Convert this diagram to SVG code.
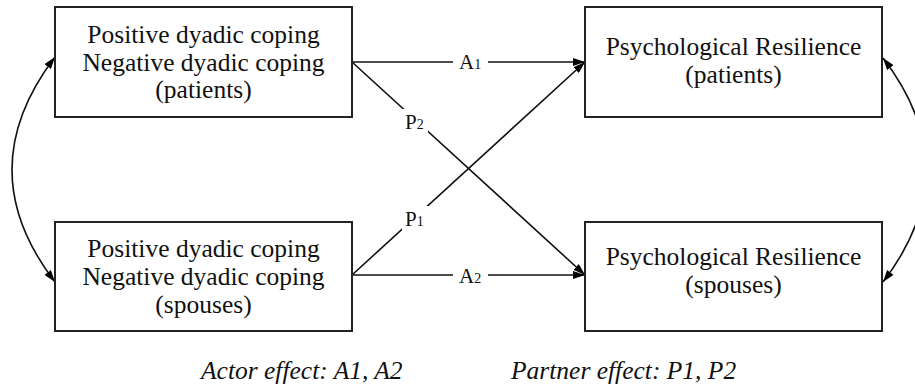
<svg xmlns="http://www.w3.org/2000/svg" width="915" height="388" viewBox="0 0 915 388">
<defs>
<marker id="ah" viewBox="0 0 12 8" refX="12" refY="4" markerWidth="12" markerHeight="8" markerUnits="userSpaceOnUse" orient="auto-start-reverse">
<path d="M0,0 L12,4 L0,8 Z" fill="#000"/>
</marker>
<style>
.box{fill:#fff;stroke:#222;stroke-width:2}
.t{font-family:"Liberation Serif","Times New Roman",serif;font-size:25.5px;fill:#111;text-anchor:middle}
.lbl{font-family:"Liberation Serif","Times New Roman",serif;font-size:21px;fill:#111}
.sub{font-size:14px}
.cap{font-family:"Liberation Serif","Times New Roman",serif;font-size:25.5px;font-style:italic;fill:#111}
.ln{fill:none;stroke:#111;stroke-width:1.6}
.bg{fill:#fff}
</style>
</defs>
<rect width="915" height="388" fill="#fff"/>
<g id="connectors">
<path class="ln" d="M352,62 L585,62" marker-end="url(#ah)"/>
<path class="ln" d="M352,275 L585,275" marker-end="url(#ah)"/>
<path class="ln" d="M352,62 L585,275" marker-end="url(#ah)"/>
<path class="ln" d="M352,275 L585,62" marker-end="url(#ah)"/>
<path class="ln" d="M55,282 Q-31,170 55,57" marker-start="url(#ah)" marker-end="url(#ah)"/>
<path class="ln" d="M883,58 Q969,170 883,282" marker-start="url(#ah)" marker-end="url(#ah)"/>
<rect class="bg" x="453" y="52" width="35" height="20"/>
<text class="lbl" x="459" y="69">A<tspan class="sub">1</tspan></text>
<rect class="bg" x="453" y="265" width="35" height="20"/>
<text class="lbl" x="459" y="283">A<tspan class="sub">2</tspan></text>
<rect class="bg" x="402" y="109" width="26" height="24"/>
<text class="lbl" x="405" y="129">P<tspan class="sub">2</tspan></text>
<rect class="bg" x="402" y="206" width="27" height="24"/>
<text class="lbl" x="405" y="226">P<tspan class="sub">1</tspan></text>
</g>
<g id="node-dc-patients">
<rect class="box" x="55" y="7" width="297" height="110"/>
<text class="t" x="203.5" y="43">Positive dyadic coping</text>
<text class="t" x="203.5" y="70.5">Negative dyadic coping</text>
<text class="t" x="203.5" y="98">(patients)</text>
</g>
<g id="node-dc-spouses">
<rect class="box" x="55" y="222" width="297" height="109"/>
<text class="t" x="203.5" y="257">Positive dyadic coping</text>
<text class="t" x="203.5" y="285">Negative dyadic coping</text>
<text class="t" x="203.5" y="313">(spouses)</text>
</g>
<g id="node-pr-patients">
<rect class="box" x="585" y="7" width="297" height="110"/>
<text class="t" x="733.5" y="55">Psychological Resilience</text>
<text class="t" x="733.5" y="83">(patients)</text>
</g>
<g id="node-pr-spouses">
<rect class="box" x="585" y="222" width="297" height="109"/>
<text class="t" x="733.5" y="265">Psychological Resilience</text>
<text class="t" x="733.5" y="293">(spouses)</text>
</g>
<g id="legend">
<text class="cap" x="201" y="379">Actor effect: A1, A2</text>
<text class="cap" x="511" y="379">Partner effect: P1, P2</text>
</g>
</svg>
